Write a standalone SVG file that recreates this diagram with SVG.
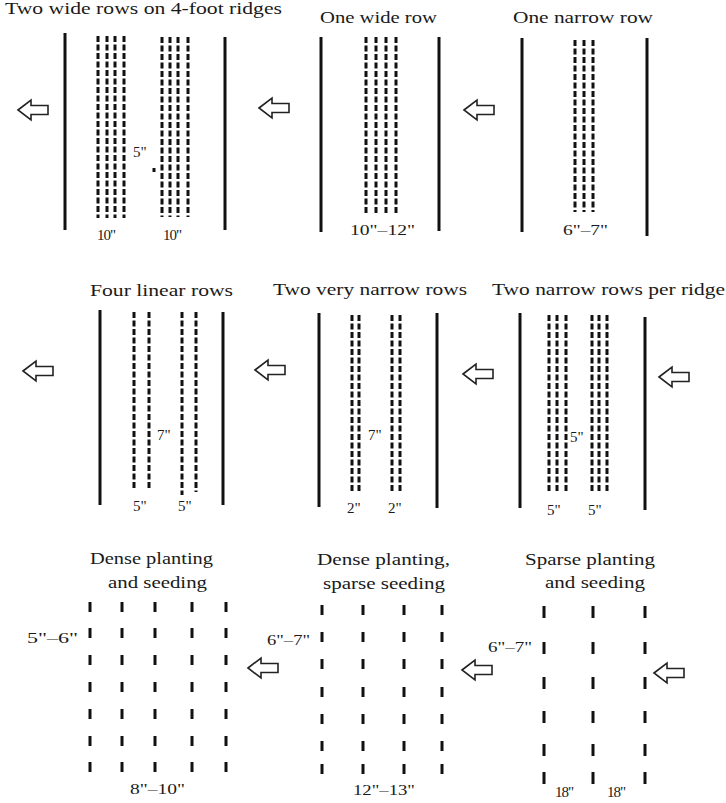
<svg xmlns="http://www.w3.org/2000/svg" xmlns:xlink="http://www.w3.org/1999/xlink" width="726" height="803" viewBox="0 0 726 803">
<style>
.bg{fill:#ffffff}
.solid{stroke:#111;stroke-width:3;fill:none}
.dash{stroke:#111;stroke-width:3;stroke-dasharray:6 2.5;fill:none}
.tick{stroke:#111;stroke-width:3;fill:none}
.title{font-family:"Liberation Serif","Times New Roman",serif;font-size:17px;fill:#1a1a1a}
.lbl{font-family:"Liberation Serif","Times New Roman",serif;font-size:15px;fill:#1a1a1a}
.arrow{fill:#fff;stroke:#222;stroke-width:1.6;stroke-linejoin:miter}
</style>
<defs>
<path id="arr" class="arrow" d="M0,0 L13,-10 L13,-4.5 L30,-4.5 L30,4.5 L13,4.5 L13,10 Z"/>
</defs>
<rect class="bg" x="0" y="0" width="726" height="803"/>

<g id="panel-two-wide-rows">
<text class="title" x="5" y="14" textLength="277" lengthAdjust="spacingAndGlyphs">Two wide rows on 4-foot ridges</text>
<line class="solid" x1="65" y1="33" x2="65" y2="230"/>
<line class="solid" x1="225" y1="37" x2="225" y2="230"/>
<line class="dash" x1="98" y1="36" x2="98" y2="218"/>
<line class="dash" x1="107" y1="36" x2="107" y2="218"/>
<line class="dash" x1="115" y1="36" x2="115" y2="218"/>
<line class="dash" x1="124" y1="36" x2="124" y2="218"/>
<line class="dash" x1="162" y1="37" x2="162" y2="217"/>
<line class="dash" x1="170" y1="37" x2="170" y2="217"/>
<line class="dash" x1="178" y1="37" x2="178" y2="217"/>
<line class="dash" x1="188" y1="37" x2="188" y2="217"/>
<text class="lbl" x="133" y="157">5"</text>
<line class="tick" x1="154" y1="168" x2="154" y2="172"/>
<text class="lbl" x="97" y="240" textLength="19">10"</text>
<text class="lbl" x="163" y="240" textLength="19">10"</text>
</g>

<g id="panel-one-wide-row">
<text class="title" x="320" y="23" textLength="117" lengthAdjust="spacingAndGlyphs">One wide row</text>
<line class="solid" x1="321" y1="37" x2="321" y2="232"/>
<line class="solid" x1="439" y1="37" x2="439" y2="231"/>
<line class="dash" x1="366" y1="37" x2="366" y2="215"/>
<line class="dash" x1="376" y1="37" x2="376" y2="215"/>
<line class="dash" x1="386" y1="37" x2="386" y2="215"/>
<line class="dash" x1="396" y1="37" x2="396" y2="215"/>
<text class="lbl" x="350" y="235" textLength="65" lengthAdjust="spacingAndGlyphs">10"–12"</text>
</g>

<g id="panel-one-narrow-row">
<text class="title" x="513" y="23" textLength="140" lengthAdjust="spacingAndGlyphs">One narrow row</text>
<line class="solid" x1="522" y1="38" x2="522" y2="232"/>
<line class="solid" x1="647" y1="38" x2="647" y2="236"/>
<line class="dash" x1="575" y1="40" x2="575" y2="212"/>
<line class="dash" x1="584" y1="40" x2="584" y2="212"/>
<line class="dash" x1="593" y1="40" x2="593" y2="212"/>
<text class="lbl" x="563" y="235" textLength="45" lengthAdjust="spacingAndGlyphs">6"–7"</text>
</g>

<g id="panel-four-linear-rows">
<text class="title" x="90" y="296" textLength="143" lengthAdjust="spacingAndGlyphs">Four linear rows</text>
<line class="solid" x1="100" y1="310" x2="100" y2="505"/>
<line class="solid" x1="223" y1="312" x2="223" y2="505"/>
<line class="dash" x1="134" y1="312" x2="134" y2="490"/>
<line class="dash" x1="149" y1="312" x2="149" y2="490"/>
<line class="dash" x1="182" y1="312" x2="182" y2="495"/>
<line class="dash" x1="196" y1="312" x2="196" y2="492"/>
<text class="lbl" x="157" y="440">7"</text>
<text class="lbl" x="133" y="511">5"</text>
<text class="lbl" x="178" y="511">5"</text>
</g>

<g id="panel-two-very-narrow-rows">
<text class="title" x="273" y="295" textLength="194" lengthAdjust="spacingAndGlyphs">Two very narrow rows</text>
<line class="solid" x1="319" y1="313" x2="319" y2="507"/>
<line class="solid" x1="437" y1="313" x2="437" y2="508"/>
<line class="dash" x1="352" y1="315" x2="352" y2="493"/>
<line class="dash" x1="359" y1="315" x2="359" y2="493"/>
<line class="dash" x1="392" y1="315" x2="392" y2="493"/>
<line class="dash" x1="400" y1="315" x2="400" y2="493"/>
<text class="lbl" x="368" y="440">7"</text>
<text class="lbl" x="347" y="513">2"</text>
<text class="lbl" x="388" y="513">2"</text>
</g>

<g id="panel-two-narrow-rows-per-ridge">
<text class="title" x="492" y="295" textLength="233" lengthAdjust="spacingAndGlyphs">Two narrow rows per ridge</text>
<line class="solid" x1="520" y1="313" x2="520" y2="508"/>
<line class="solid" x1="645" y1="317" x2="645" y2="510"/>
<line class="dash" x1="549" y1="315" x2="549" y2="493"/>
<line class="dash" x1="557" y1="315" x2="557" y2="493"/>
<line class="dash" x1="566" y1="315" x2="566" y2="493"/>
<line class="dash" x1="592" y1="315" x2="592" y2="493"/>
<line class="dash" x1="599" y1="315" x2="599" y2="493"/>
<line class="dash" x1="607" y1="315" x2="607" y2="493"/>
<text class="lbl" x="570" y="442">5"</text>
<text class="lbl" x="547" y="515">5"</text>
<text class="lbl" x="588" y="515">5"</text>
</g>

<g id="panel-dense-planting-and-seeding">
<text class="title" x="90" y="564" textLength="123" lengthAdjust="spacingAndGlyphs">Dense planting</text>
<text class="title" x="108" y="588" textLength="99" lengthAdjust="spacingAndGlyphs">and seeding</text>
<g class="tick">
<path d="M90,602v10M90,628v10M90,655v10M90,682v10M90,709v10M90,736v10M90,762v10"/>
<path d="M122,602v10M122,628v10M122,655v10M122,682v10M122,709v10M122,736v10M122,762v10"/>
<path d="M155,602v10M155,628v10M155,655v10M155,682v10M155,709v10M155,736v10M155,762v10"/>
<path d="M192,602v10M192,628v10M192,655v10M192,682v10M192,709v10M192,736v10M192,762v10"/>
<path d="M226,602v10M226,628v10M226,655v10M226,682v10M226,709v10M226,736v10M226,762v10"/>
</g>
<text class="lbl" x="27" y="643" textLength="51" lengthAdjust="spacingAndGlyphs">5"–6"</text>
<text class="lbl" x="130" y="794" textLength="55" lengthAdjust="spacingAndGlyphs">8"–10"</text>
</g>

<g id="panel-dense-planting-sparse-seeding">
<text class="title" x="317" y="565" textLength="133" lengthAdjust="spacingAndGlyphs">Dense planting,</text>
<text class="title" x="323" y="589" textLength="122" lengthAdjust="spacingAndGlyphs">sparse seeding</text>
<g class="tick">
<path d="M322,605v10M322,632v10M322,659v10M322,687v10M322,714v10M322,741v10M322,764v10"/>
<path d="M363,605v10M363,632v10M363,659v10M363,687v10M363,714v10M363,741v10M363,764v10"/>
<path d="M404,605v10M404,632v10M404,659v10M404,687v10M404,714v10M404,741v10M404,764v10"/>
<path d="M442,605v10M442,632v10M442,659v10M442,687v10M442,714v10M442,741v10M442,764v10"/>
</g>
<text class="lbl" x="267" y="645" textLength="43" lengthAdjust="spacingAndGlyphs">6"–7"</text>
<text class="lbl" x="353" y="795" textLength="62" lengthAdjust="spacingAndGlyphs">12"–13"</text>
</g>

<g id="panel-sparse-planting-and-seeding">
<text class="title" x="525" y="565" textLength="130" lengthAdjust="spacingAndGlyphs">Sparse planting</text>
<text class="title" x="545" y="588" textLength="100" lengthAdjust="spacingAndGlyphs">and seeding</text>
<g class="tick">
<path d="M544,606v12M544,642v12M544,677v12M544,711v12M544,744v12M544,772v12"/>
<path d="M593,606v12M593,642v12M593,677v12M593,711v12M593,744v12M593,772v12"/>
<path d="M645,606v12M645,642v12M645,677v12M645,711v12M645,744v12M645,772v12"/>
</g>
<text class="lbl" x="488" y="652" textLength="44" lengthAdjust="spacingAndGlyphs">6"–7"</text>
<text class="lbl" x="555" y="797" textLength="19">18"</text>
<text class="lbl" x="607" y="797" textLength="19">18"</text>
</g>

<g id="connectors">
<use xlink:href="#arr" x="18" y="110"/>
<use xlink:href="#arr" x="259" y="108"/>
<use xlink:href="#arr" x="464" y="110"/>
<use xlink:href="#arr" x="23" y="371"/>
<use xlink:href="#arr" x="255" y="370"/>
<use xlink:href="#arr" x="463" y="374"/>
<use xlink:href="#arr" x="659" y="377"/>
<use xlink:href="#arr" x="248" y="668"/>
<use xlink:href="#arr" x="462" y="670"/>
<use xlink:href="#arr" x="654" y="673"/>
</g>
</svg>
